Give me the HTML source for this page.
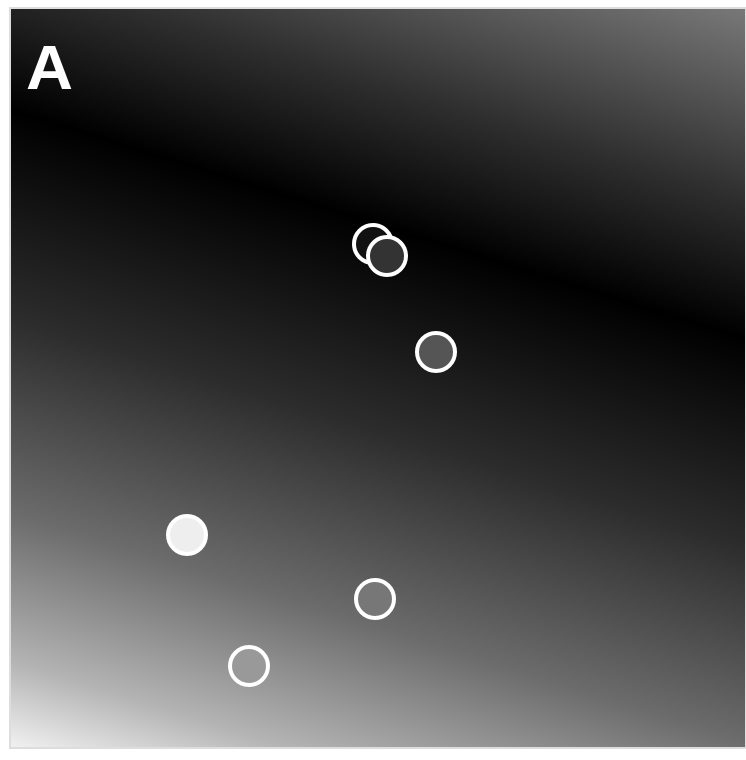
<!DOCTYPE html>
<html><head><meta charset="utf-8"><style>
html,body{margin:0;padding:0;background:#fff;width:746px;height:760px;overflow:hidden}
svg{display:block}
</style></head><body>
<svg id="chart" width="746" height="760" viewBox="0 0 746 760" xmlns="http://www.w3.org/2000/svg">
<defs>
<linearGradient id="bg" gradientUnits="userSpaceOnUse" x1="473" y1="-81" x2="193" y2="817">
<stop offset="0" stop-color="#7a7a7a"/>
<stop offset="0.2" stop-color="#2e2e2e"/>
<stop offset="0.34" stop-color="#000"/>
<stop offset="0.55" stop-color="#2c2c2c"/>
<stop offset="0.75" stop-color="#6c6c6c"/>
<stop offset="0.9" stop-color="#b4b4b4"/>
<stop offset="1" stop-color="#fafafa"/>
</linearGradient>
</defs>
<rect x="10" y="8" width="736" height="740" fill="url(#bg)" stroke="#ddd" stroke-width="2"/>
<text x="26" y="89" font-family="Liberation Sans, sans-serif" font-weight="bold" font-size="62" fill="#fff" transform="translate(26 0) scale(1.05 1) translate(-26 0)">A</text>
<g id="pts"></g>
</svg>
<script>
const xs=[373,387,436,187,375,249];
const ys=[244,256,352,535,599,666];
const fills=['#111','#333','#555','#eee','#777','#999'];
const g=document.getElementById('pts');
for(let i=0;i<xs.length;i++){
  const c=document.createElementNS('http://www.w3.org/2000/svg','circle');
  
  
  c.setAttribute('cx',xs[i]);c.setAttribute('cy',ys[i]);c.setAttribute('r',19);
  c.setAttribute('fill',fills[i]);c.setAttribute('stroke','#fff');c.setAttribute('stroke-width',4);
  g.appendChild(c);
}
</script>
</body></html>
